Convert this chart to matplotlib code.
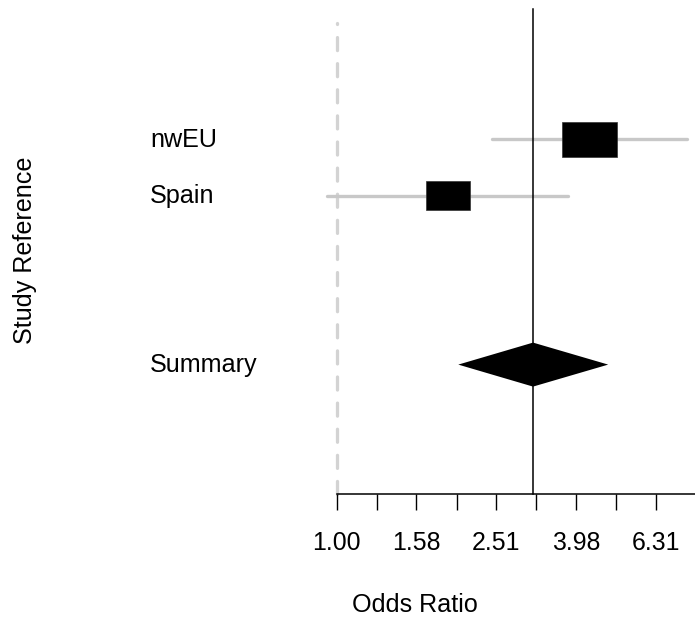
import numpy as np
import matplotlib
matplotlib.use("Agg")
import matplotlib.pyplot as plt
from matplotlib.ticker import NullLocator
from matplotlib.transforms import blended_transform_factory

# ---------------- data ----------------
studies = ["nwEU", "Spain"]
or_est = [4.28, 1.90]
or_lo = [2.44, 0.944]
or_hi = [7.51, 3.80]

summary_label = "Summary"
summary_est = 3.10
summary_lo = 2.015
summary_hi = 4.78

tick_values = [1.00, 1.26, 1.58, 2.00, 2.51, 3.16, 3.98, 5.01, 6.31]
tick_labels = ["1.00", "", "1.58", "", "2.51", "", "3.98", "", "6.31"]

x_label = "Odds Ratio"
y_label = "Study Reference"

# ---------------- layout ----------------
plt.rcParams['font.family'] = ['Liberation Sans', 'DejaVu Sans']
W, H = 695, 622
FS = 18.1
FS_TICK = 17.9

fig = plt.figure(figsize=(W / 100, H / 100), dpi=100)
left_px, right_px, bottom_px, top_px = 336.7, 695.0, 494.3, 0.0
px_per_dec = 399.6
row_px = 56.3
row1_px = 139.4

ax = fig.add_axes([left_px / W, 1 - bottom_px / H,
                   (right_px - left_px) / W, (bottom_px - top_px) / H])
ax.set_xscale('log')
ax.set_xlim(1.0, 10 ** ((right_px - left_px) / px_per_dec))


def row_of(px):
    return 1 + (px - row1_px) / row_px


y_bottom = row_of(bottom_px)
ax.set_ylim(y_bottom, row_of(top_px))

for s in ['top', 'right', 'left']:
    ax.spines[s].set_visible(False)
ax.spines['bottom'].set_linewidth(1.1)
ax.set_yticks([])
ax.xaxis.set_minor_locator(NullLocator())
ax.set_xticks(tick_values)
ax.set_xticklabels(tick_labels)
ax.tick_params(axis='x', length=11.3, width=1.0, pad=15, labelsize=FS_TICK,
               direction='out', colors='black')

study_rows = [1, 2]
summary_row = 5

# reference line at OR = 1
ax.plot([1.0, 1.0], [y_bottom, row_of(23.3)], color='#D3D3D3', lw=2.35,
        ls=(0, (4, 4)), dash_capstyle='round', solid_capstyle='round',
        clip_on=False, zorder=1)

# summary vertical line
ax.plot([summary_est, summary_est], [y_bottom, row_of(9.3)], color='black',
        lw=1.1, clip_on=False, zorder=4)

# study CIs and boxes
prec = [1.0 / (np.log10(h) - np.log10(l)) for l, h in zip(or_lo, or_hi)]
pmax = max(prec)
box_w_dec = 55.0 / px_per_dec
box_h_rows = 35.6 / row_px
for r, e, l, h, p in zip(study_rows, or_est, or_lo, or_hi, prec):
    ax.plot([l, h], [r, r], color='#C8C8C8', lw=2.4, solid_capstyle='round',
            clip_on=False, zorder=2)
    f = p / pmax
    hw = box_w_dec * f / 2
    hh = box_h_rows * f / 2
    le = np.log10(e)
    xs = [10 ** (le - hw), 10 ** (le + hw), 10 ** (le + hw), 10 ** (le - hw)]
    ys = [r - hh, r - hh, r + hh, r + hh]
    ax.fill(xs, ys, color='black', lw=0.5, ec='#333333', zorder=3,
            clip_on=False)

# summary diamond
dh = 44.0 / row_px / 2
ax.fill([summary_lo, summary_est, summary_hi, summary_est],
        [summary_row, summary_row - dh, summary_row, summary_row + dh],
        color='black', lw=0, zorder=3)

# labels
tr = blended_transform_factory(fig.transFigure, ax.transData)
off = 7.8 / row_px
for r, name in zip(study_rows, studies):
    ax.text(150 / W, r + off, name, transform=tr, ha='left', va='baseline',
            fontsize=FS)
ax.text(150 / W, summary_row + off, summary_label, transform=tr, ha='left',
        va='baseline', fontsize=FS)

fig.text(414.7 / W, 1 - 611.7 / H, x_label, ha='center', va='baseline',
         fontsize=FS)
fig.text(31.7 / W, 1 - 250.8 / H, y_label, ha='center', va='baseline',
         rotation=90, rotation_mode='anchor', fontsize=FS)

fig.savefig("out.png", dpi=100)
